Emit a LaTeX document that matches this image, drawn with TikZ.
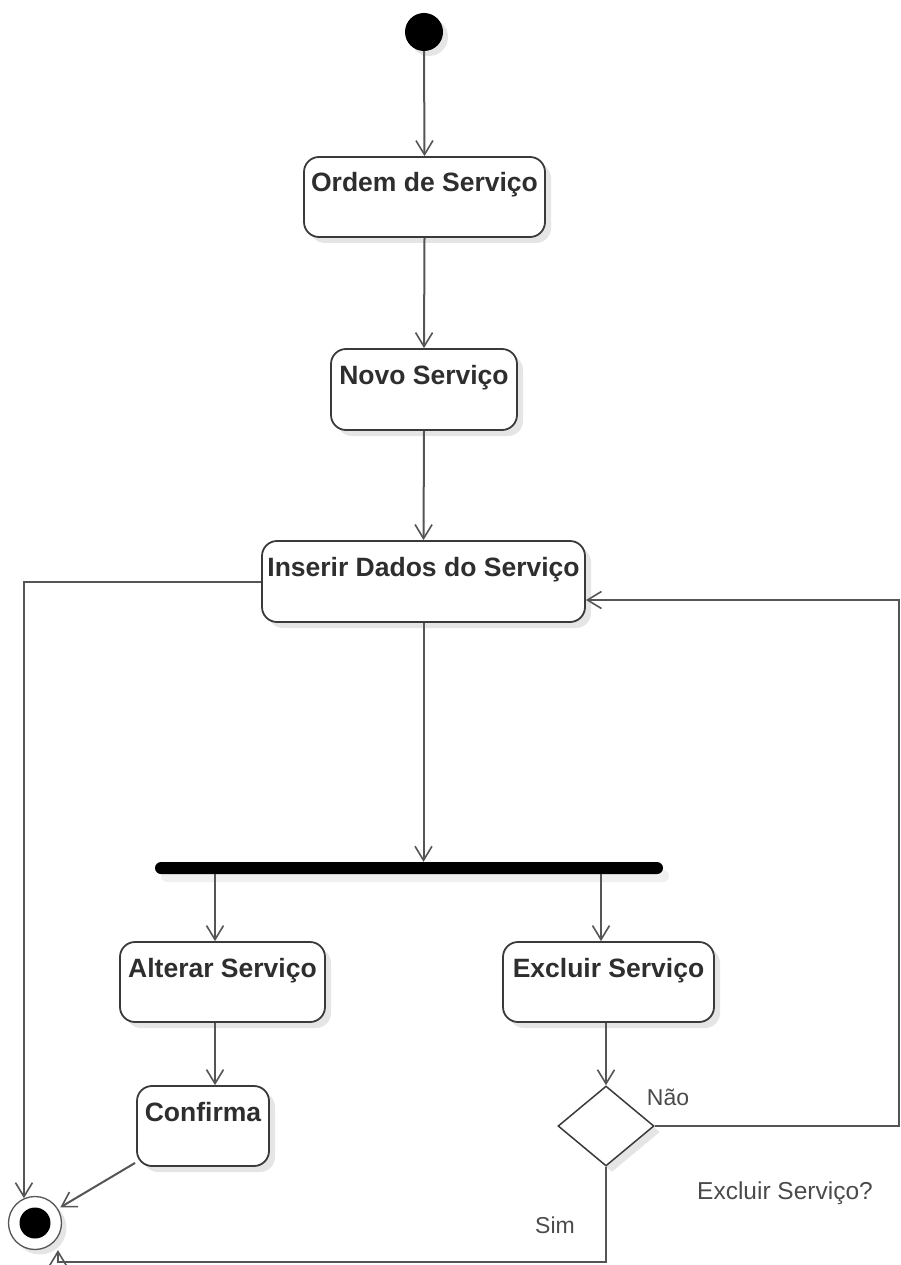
\documentclass[tikz,border=0pt]{standalone}
\usepackage{fontspec}
\setmainfont{Liberation Sans}
\usetikzlibrary{arrows.meta,shapes.geometric,shadows,calc}
\definecolor{linec}{HTML}{555555}
\definecolor{boxc}{HTML}{3A3A3A}
\definecolor{txtc}{HTML}{2E2E2E}
\definecolor{lblc}{HTML}{4A4A4A}
\tikzset{
  actbox/.style={draw=boxc, line width=1.8pt, fill=white, rounded corners=15pt,
    font=\fontsize{26.5}{31}\selectfont\bfseries, text=txtc,
    text height=18pt, text depth=28pt, inner sep=0pt,
    drop shadow={shadow xshift=6pt, shadow yshift=-6pt, opacity=0.10, fill=black}},
  arr/.style={draw=linec, line width=2pt, -{Straight Barb[length=14pt,width=17pt,line width=1.6pt]}},
  lbl/.style={font=\fontsize{23}{28}\selectfont, text=lblc, inner sep=0pt},
}
\begin{document}
\begin{tikzpicture}[x=1pt,y=-1pt]
\useasboundingbox (0,0) rectangle (901,1265);
% initial node
\node[circle, fill=black, minimum size=38pt, inner sep=0pt,
  drop shadow={shadow xshift=5pt, shadow yshift=-5pt, opacity=0.10, fill=black}] (ini) at (424,32) {};
% activities
\node[actbox, minimum width=241pt, minimum height=80pt] (ord) at (424.5,197) {Ordem de Serviço};
\node[actbox, minimum width=186pt, minimum height=81pt] (nov) at (424,389.5) {Novo Serviço};
\node[actbox, minimum width=323pt, minimum height=81pt] (ins) at (423.5,581.5) {Inserir Dados do Serviço};
\node[fill=black, rounded corners=6pt, minimum width=508pt, minimum height=12pt, inner sep=0pt,
  drop shadow={shadow xshift=6pt, shadow yshift=-8pt, opacity=0.06, fill=black}] (bar) at (409,868) {};
\node[actbox, minimum width=205pt, minimum height=80pt] (alt) at (222.5,982) {Alterar Serviço};
\node[actbox, minimum width=211pt, minimum height=80pt] (exc) at (608.5,982) {Excluir Serviço};
\node[actbox, minimum width=132pt, minimum height=80pt] (con) at (203,1126) {Confirma};
% decision
\node[diamond, draw=boxc, line width=1.5pt, fill=white, minimum width=96pt, minimum height=80pt, inner sep=0pt,
  drop shadow={shadow xshift=6pt, shadow yshift=-6pt, opacity=0.10, fill=black}] (dia) at (606,1126) {};
% final node
\node[circle, draw=linec, line width=1.3pt, fill=white, minimum size=53pt, inner sep=0pt,
  drop shadow={shadow xshift=5pt, shadow yshift=-5pt, opacity=0.10, fill=black}] (fin) at (35,1223) {};
\node[circle, fill=black, minimum size=31pt, inner sep=0pt] (finin) at (fin.center) {};
% labels
\node[lbl] (nao) at (668,1097) {Não};
\node[lbl] (sim) at (555,1225) {Sim};
\node[lbl, font=\fontsize{24.5}{29}\selectfont] (q) at (785,1193) {Excluir Serviço?};
% connectors
\draw[arr] (ini.south) -- (ord.north);
\draw[arr] (ord.south) -- (nov.north);
\draw[arr] (nov.south) -- (ins.north);
\draw[arr] (ins.south) -- (ins.south |- bar.north);
\draw[arr] ([xshift=-7.5pt]alt.north |- bar.south) -- ([xshift=-7.5pt]alt.north);
\draw[arr] ([xshift=-7.5pt]exc.north |- bar.south) -- ([xshift=-7.5pt]exc.north);
\draw[arr] ([xshift=-7.5pt]alt.south) -- ([xshift=-7.5pt]alt.south |- con.north);
\draw[arr] ([xshift=-2.5pt]exc.south) -- (dia.north);
\draw[arr] (ins.west) -| (fin.114);
\draw[arr] ([xshift=-1pt,yshift=4pt]con.south west) -- ([xshift=4pt,yshift=-1pt]fin.38);
\coordinate (rc) at (899,0);
\draw[arr] (dia.east) -- (dia.east -| rc) |- ([yshift=-18.5pt]ins.east);
\draw[arr] (dia.south) -- ++(0,95) -| ([xshift=23pt]fin.south);
\end{tikzpicture}
\end{document}
